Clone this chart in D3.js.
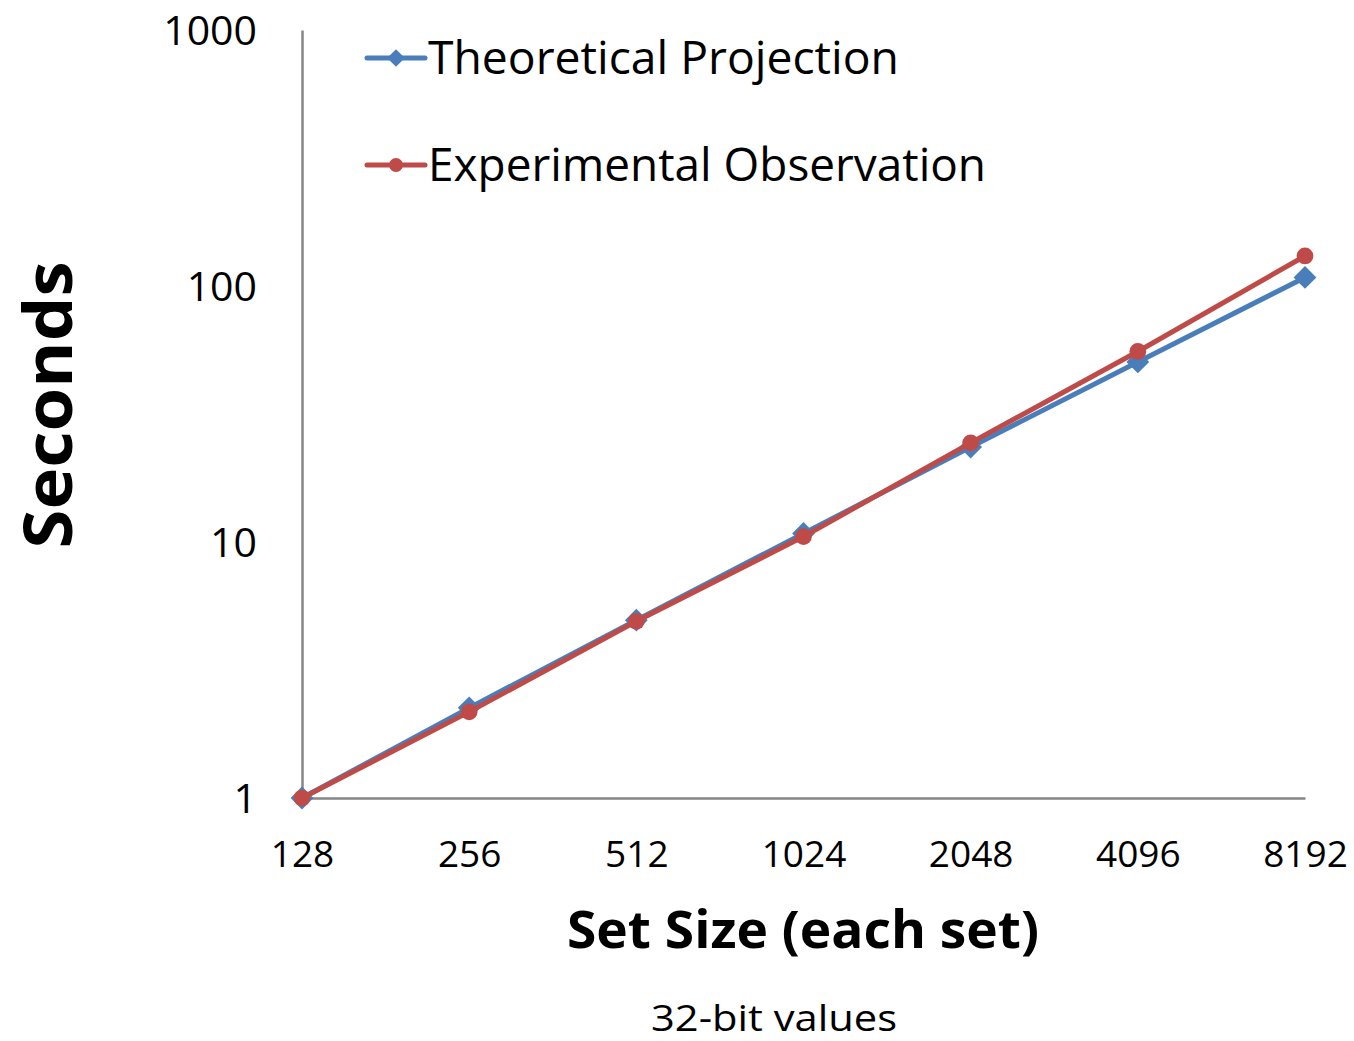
<!DOCTYPE html>
<html>
<head>
<meta charset="utf-8">
<script src="https://cdn.jsdelivr.net/npm/d3@7"></script>
<style>
  body { margin: 0; background: #fff; }
  text { font-family: "Open Sans", "Noto Sans", sans-serif; fill: #000; }
</style>
</head>
<body>
<div id="chart"></div>
<script>
// data
const setSizes = [128, 256, 512, 1024, 2048, 4096, 8192];
const theoretical = [1, 2.25, 4.95, 10.8, 23.5, 50.5, 108];
const experimental = [1, 2.17, 4.9, 10.5, 24.4, 55.5, 131];
const yTicks = [1, 10, 100, 1000];
const seriesNames = [`Theoretical Projection`, `Experimental Observation`];

const W = 1354, H = 1041;
const svg = d3.select(`#chart`).append(`svg`).attr(`width`, W).attr(`height`, H);

const x = d3.scalePoint().domain(setSizes).range([302, 1305]);
const y = d3.scaleLog().domain([1, 1000]).range([798, 30]);

// fitted text helper (keeps widths close to the original Calibri)
function label(g, txt, len) {
  return g.append(`text`).text(txt).attr(`textLength`, len).attr(`lengthAdjust`, `spacingAndGlyphs`);
}

// axes
const yAxis = d3.axisLeft(y).tickValues(yTicks).tickFormat(d3.format(`d`)).tickSize(0).tickPadding(45);
const gy = svg.append(`g`).attr(`transform`, `translate(302,0)`).call(yAxis);
gy.select(`.domain`).attr(`stroke`, `#868686`).attr(`stroke-width`, 2.5);
gy.selectAll(`text`).attr(`font-size`, 41).attr(`dy`, `0.36em`);

const xAxis = d3.axisBottom(x).tickSize(0).tickPadding(56);
const gx = svg.append(`g`).attr(`transform`, `translate(0,798)`).call(xAxis);
gx.select(`.domain`).attr(`stroke`, `#868686`).attr(`stroke-width`, 2.5);
gx.selectAll(`text`).attr(`font-size`, 37).attr(`dy`, `0.36em`);

// axis titles
label(svg, `Seconds`, 287)
  .attr(`font-size`, 66).attr(`font-weight`, `bold`).attr(`text-anchor`, `middle`)
  .attr(`transform`, `translate(72,405) rotate(-90)`);
label(svg, `Set Size (each set)`, 472)
  .attr(`font-size`, 52).attr(`font-weight`, `bold`).attr(`text-anchor`, `middle`)
  .attr(`x`, 803).attr(`y`, 948);
label(svg, `32-bit values`, 246)
  .attr(`font-size`, 37).attr(`text-anchor`, `middle`)
  .attr(`x`, 774).attr(`y`, 1031);

// series
const series = [
  { name: seriesNames[0], values: theoretical, color: `#4A7EBB`, shape: d3.symbolDiamond2 },
  { name: seriesNames[1], values: experimental, color: `#BE4B48`, shape: d3.symbolCircle }
];

const line = d3.line().x((d, i) => x(setSizes[i])).y(d => y(d));

series.forEach(s => {
  const g = svg.append(`g`);
  g.append(`path`).datum(s.values)
    .attr(`d`, line).attr(`fill`, `none`).attr(`stroke`, s.color)
    .attr(`stroke-width`, 5).attr(`stroke-linejoin`, `round`);
  g.selectAll(`.pt`).data(s.values).enter().append(`path`)
    .attr(`d`, d3.symbol().type(s.shape).size(s.shape === d3.symbolCircle ? 220 : 330))
    .attr(`transform`, (d, i) => `translate(${x(setSizes[i])},${y(d)})`)
    .attr(`fill`, s.color);
});

// legend
const legendY = [58, 165];
series.forEach((s, i) => {
  const g = svg.append(`g`).attr(`transform`, `translate(367,${legendY[i]})`);
  g.append(`line`).attr(`x1`, 0).attr(`x2`, 58).attr(`stroke`, s.color)
    .attr(`stroke-width`, 5).attr(`stroke-linecap`, `round`);
  g.append(`path`)
    .attr(`d`, d3.symbol().type(s.shape).size(s.shape === d3.symbolCircle ? 150 : 200))
    .attr(`transform`, `translate(29,0)`).attr(`fill`, s.color);
  label(g, s.name, i === 0 ? 471 : 558)
    .attr(`x`, 61).attr(`y`, 16).attr(`font-size`, 45);
});
</script>
</body>
</html>
